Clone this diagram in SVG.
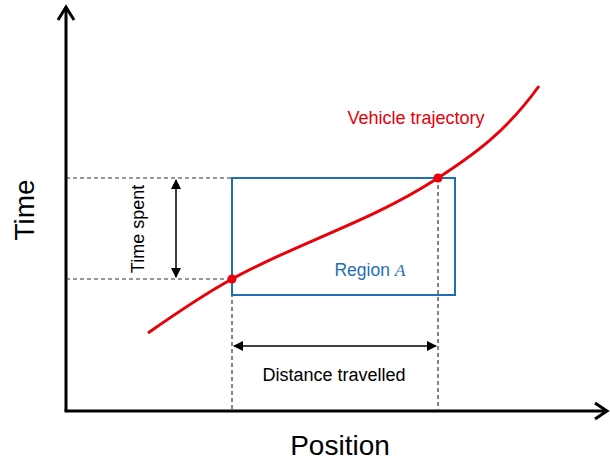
<svg xmlns="http://www.w3.org/2000/svg" width="610" height="462" viewBox="0 0 610 462">
<style>
.ax{stroke:#000;stroke-width:3;fill:none}
.dash{stroke:#333;stroke-width:1.2;stroke-dasharray:4,3;fill:none}
.t{font-family:"Liberation Sans","DejaVu Sans",sans-serif}
</style>
<defs>
<marker id="tri" viewBox="0 0 10 10" refX="9" refY="5" markerWidth="10" markerHeight="10" markerUnits="userSpaceOnUse" orient="auto-start-reverse">
<path d="M0,0 L10,5 L0,10 z" fill="#000"/>
</marker>
</defs>
<g id="axes">
<line class="ax" x1="66" y1="7" x2="66" y2="411"/>
<polyline class="ax" points="58,20 66,7 74,20"/>
<line class="ax" x1="64.5" y1="411" x2="606" y2="411"/>
<polyline class="ax" points="595,403 607,411 595,419"/>
<text class="t" x="27" y="210" font-size="28" text-anchor="middle" transform="rotate(-90 27 210)" dominant-baseline="middle">Time</text>
<text class="t" x="340" y="455" font-size="28" text-anchor="middle">Position</text>
</g>
<g id="guides">
<line class="dash" x1="66" y1="178" x2="438" y2="178"/>
<line class="dash" x1="66" y1="279" x2="232" y2="279"/>
<line class="dash" x1="232" y1="279" x2="232" y2="411"/>
<line class="dash" x1="438" y1="178" x2="438" y2="411"/>
</g>
<g id="regionA">
<rect x="232" y="178" width="223" height="117" fill="none" stroke="#1f6fb5" stroke-width="2"/>
<text class="t" x="370" y="276" font-size="17.5" fill="#1f6fb5" text-anchor="middle">Region <tspan font-family="Liberation Serif,serif" font-style="italic">A</tspan></text>
</g>
<g id="trajectory">
<path d="M148,333 C176,313.4 204,294.4 232,279 C300.7,241.2 369.3,222.6 438,178 C471.7,156.1 505.3,133 539,86" fill="none" stroke="#e8000b" stroke-width="3"/>
<circle cx="232" cy="279" r="4.5" fill="#e8000b"/>
<circle cx="438" cy="178" r="4.5" fill="#e8000b"/>
<text class="t" x="416" y="124" font-size="18" fill="#e8000b" text-anchor="middle">Vehicle trajectory</text>
</g>
<g id="connectors">
<line x1="176" y1="180" x2="176" y2="277" stroke="#000" stroke-width="1.5" marker-start="url(#tri)" marker-end="url(#tri)"/>
<line x1="234" y1="346" x2="436" y2="346" stroke="#000" stroke-width="1.5" marker-start="url(#tri)" marker-end="url(#tri)"/>
</g>
<g id="labels">
<text class="t" x="139" y="229" font-size="18" text-anchor="middle" transform="rotate(-90 139 229)" dominant-baseline="middle">Time spent</text>
<text class="t" x="334" y="381" font-size="18" text-anchor="middle">Distance travelled</text>
</g>
</svg>
